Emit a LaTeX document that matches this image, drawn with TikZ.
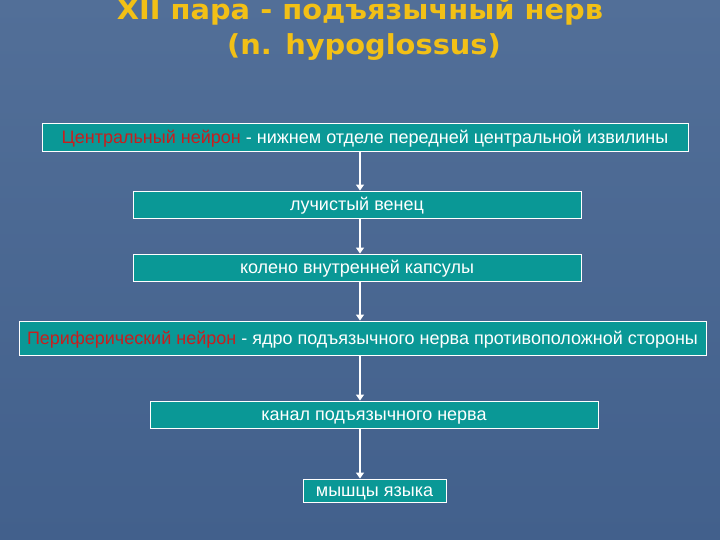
\documentclass[tikz,border=0pt]{standalone}
\usepackage{fontspec}
\setmainfont{Liberation Sans}
\newfontfamily\titlefont[FakeStretch=1.05]{DejaVu Sans Bold}
\usetikzlibrary{arrows.meta}

\definecolor{slidetop}{RGB}{82,111,152}
\definecolor{slidebottom}{RGB}{66,96,140}
\definecolor{boxteal}{RGB}{10,152,150}
\definecolor{neuronred}{RGB}{200,30,30}
\definecolor{titleyellow}{RGB}{242,192,22}

\tikzset{
  stage/.style={draw=white, line width=0.9pt, fill=boxteal, text=white,
    inner sep=0pt, text height=12.5pt, text depth=0pt,
    font=\fontsize{18}{20}\selectfont},
  flow/.style={draw=white, line width=1.3pt, -{Triangle[width=8pt,length=6pt]}},
  heading/.style={text=titleyellow, anchor=base, inner sep=0pt,
    font=\titlefont\fontsize{27.5}{30}\selectfont}
}

\begin{document}
\begin{tikzpicture}[x=1pt, y=-1pt]
  \shade[top color=slidetop, bottom color=slidebottom] (0,0) rectangle (720,540);
  \useasboundingbox (0,0) rectangle (720,540);

  \node[heading] (title1) at (360,20) {XII пара - подъязычный нерв};
  \node[heading] (title2) at (364,55) {(n. hypoglossus)};

  \coordinate (axis) at (360,0);
  \node[stage, minimum width=646pt, minimum height=28pt] (central) at (365,137)
    {\textcolor{neuronred}{Центральный нейрон} - нижнем отделе передней центральной извилины\hspace{10pt}};
  \node[stage, minimum width=448pt, minimum height=27pt] (corona) at (357,204.5) {лучистый венец};
  \node[stage, minimum width=448pt, minimum height=27pt] (knee) at (357,267.5) {колено внутренней капсулы};
  \node[stage, minimum width=687pt, minimum height=34pt] (nucleus) at (362.5,338)
    {\textcolor{neuronred}{Периферический нейрон} - ядро подъязычного нерва противоположной стороны};
  \node[stage, minimum width=448pt, minimum height=27pt] (canal) at (374,414.5) {канал подъязычного нерва};
  \node[stage, minimum width=143pt, minimum height=23pt] (tongue) at (374.5,490.5) {мышцы языка\hspace{8pt}};

  \draw[flow] (central.south -| axis) -- (corona.north -| axis);
  \draw[flow] (corona.south -| axis) -- (knee.north -| axis);
  \draw[flow] (knee.south -| axis) -- (nucleus.north -| axis);
  \draw[flow] (nucleus.south -| axis) -- (canal.north -| axis);
  \draw[flow] (canal.south -| axis) -- (tongue.north -| axis);
\end{tikzpicture}
\end{document}
